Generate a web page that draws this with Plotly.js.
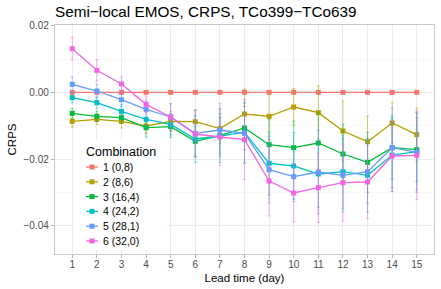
<!DOCTYPE html>
<html><head><meta charset="utf-8">
<script src="https://cdn.plot.ly/plotly-3.0.1.min.js"></script>
<style>html,body{margin:0;padding:0;background:#fff}#chart{width:441px;height:289px}</style>
</head><body><div id="chart"></div>
<script>
// ---- data ----
const leadTime = [1,2,3,4,5,6,7,8,9,10,11,12,13,14,15];
const combos = ["1 (0,8)","2 (8,6)","3 (16,4)","4 (24,2)","5 (28,1)","6 (32,0)"];
const crps1 = [0,0,0,0,0,0,0,0,0,0,0,0,0,0,0];
const err1  = [0,0,0,0,0,0,0,0,0,0,0,0,0,0,0];
const crps2 = [-0.0087,-0.0081,-0.0087,-0.0101,-0.0087,-0.0088,-0.0109,-0.0065,-0.0072,-0.0044,-0.0061,-0.0116,-0.0148,-0.0092,-0.0127];
const err2  = [0.0018,0.0016,0.0020,0.0022,0.0030,0.0035,0.0045,0.0075,0.0070,0.0055,0.0080,0.0090,0.0076,0.0062,0.0080];
const crps3 = [-0.0063,-0.0072,-0.0076,-0.0106,-0.0103,-0.0147,-0.0130,-0.0107,-0.0157,-0.0166,-0.0152,-0.0185,-0.0210,-0.0166,-0.0172];
const err3  = [0.0015,0.0016,0.0016,0.0028,0.0032,0.0045,0.0055,0.0065,0.0075,0.0080,0.0090,0.0090,0.0090,0.0095,0.0095];
const crps4 = [-0.0016,-0.0031,-0.0057,-0.0081,-0.0096,-0.0140,-0.0131,-0.0120,-0.0213,-0.0221,-0.0245,-0.0238,-0.0249,-0.0188,-0.0178];
const err4  = [0.0016,0.0017,0.0020,0.0025,0.0032,0.0070,0.0080,0.0090,0.0095,0.0100,0.0100,0.0110,0.0110,0.0110,0.0115];
const crps5 = [0.0024,0.0004,-0.0022,-0.0051,-0.0074,-0.0123,-0.0113,-0.0123,-0.0232,-0.0253,-0.0239,-0.0249,-0.0238,-0.0166,-0.0180];
const err5  = [0.0023,0.0020,0.0021,0.0025,0.0040,0.0070,0.0080,0.0090,0.0100,0.0075,0.0125,0.0110,0.0095,0.0120,0.0120];
const crps6 = [0.0131,0.0066,0.0025,-0.0036,-0.0074,-0.0125,-0.0134,-0.0142,-0.0266,-0.0302,-0.0286,-0.0271,-0.0269,-0.0191,-0.0189];
const err6  = [0.0034,0.0032,0.0021,0.0025,0.0040,0.0070,0.0085,0.0120,0.0105,0.0087,0.0104,0.0115,0.0110,0.0106,0.0133];

// ---- styles ----
const colors = ["#F8766D","#B79F00","#00BA38","#00BFC4","#619CFF","#F564E3"];
const alphaCols = ["rgba(248,118,109,0.5)","rgba(183,159,0,0.5)","rgba(0,186,56,0.5)","rgba(0,191,196,0.5)","rgba(97,156,255,0.5)","rgba(245,100,227,0.5)"];
const FONT = "Liberation Sans, Arial, Helvetica, sans-serif";

const series = [crps1,crps2,crps3,crps4,crps5,crps6];
const errs = [err1,err2,err3,err4,err5,err6];

const traces = series.map((ys,i)=>({
  x: leadTime, y: ys, type:'scatter', mode:'lines+markers', name: combos[i],
  line:{color:colors[i], width:1.3},
  marker:{color:colors[i], size:5, symbol:'square'},
  error_y:{type:'data', array:errs[i], visible:i>0, color:alphaCols[i], thickness:1, width:1.5},
  showlegend:false
}));

// plot area in px
const P = {l:55, r:434, t:25, b:254};
const px = x => (x-P.l)/(P.r-P.l);
const py = y => (P.b-y)/(P.b-P.t);

// custom legend (ggplot style)
const shapes = [{type:'rect', xref:'paper', yref:'paper', x0:px(73), x1:px(167), y0:py(250), y1:py(140),
  fillcolor:'#ffffff', line:{width:0}, layer:'above'}];
const annotations = [{xref:'paper', yref:'paper', x:px(84), y:py(152), xanchor:'left', yanchor:'middle',
  text:'Combination', showarrow:false, font:{family:FONT, size:12.5, color:'#000'}}];
combos.forEach((lab,i)=>{
  const yc = 167 + i*14.8;
  shapes.push({type:'line', xref:'paper', yref:'paper', x0:px(86), x1:px(98), y0:py(yc), y1:py(yc),
    line:{color:colors[i], width:1.3}, layer:'above'});
  shapes.push({type:'rect', xref:'paper', yref:'paper', x0:px(89.5), x1:px(94.5), y0:py(yc+2.5), y1:py(yc-2.5),
    fillcolor:colors[i], line:{width:0}, layer:'above'});
  annotations.push({xref:'paper', yref:'paper', x:px(101), y:py(yc), xanchor:'left', yanchor:'middle',
    text:lab, showarrow:false, font:{family:FONT, size:10.5, color:'#000'}});
});

const layout = {
  width:441, height:289,
  margin:{l:P.l, r:441-P.r, t:P.t, b:289-P.b, pad:0},
  paper_bgcolor:'#fff', plot_bgcolor:'#fff',
  font:{family:FONT},
  title:{text:'Semi\u2212local EMOS, CRPS, TCo399\u2212TCo639', xref:'container', yref:'container',
    x:55/441, xanchor:'left', y:1-12/289, yanchor:'middle', font:{family:FONT, size:15.3, color:'#000'}},
  xaxis:{range:[0.3,15.7], tickvals:leadTime, ticktext:leadTime.map(String), showgrid:true, gridcolor:'#EBEBEB', gridwidth:1,
    zeroline:false, showline:true, mirror:true, linecolor:'#C8C8C8', linewidth:1.2,
    ticks:'outside', ticklen:3, tickcolor:'#B3B3B3', tickwidth:1, ticklabelstandoff:-2,
    tickfont:{family:FONT, size:10, color:'#4D4D4D'},
    title:{text:'Lead time (day)', font:{family:FONT, size:11.5, color:'#000'}, standoff:4}},
  yaxis:{range:[-0.0485,0.0202], tick0:0, dtick:0.02, tickformat:'.2f', showgrid:true, gridcolor:'#EBEBEB', gridwidth:1,
    minor:{dtick:0.01, showgrid:true, gridcolor:'#F3F3F3', gridwidth:0.6, ticks:''},
    zeroline:false, showline:true, mirror:true, linecolor:'#C8C8C8', linewidth:1.2,
    ticks:'outside', ticklen:3, tickcolor:'#B3B3B3', tickwidth:1,
    tickfont:{family:FONT, size:10, color:'#4D4D4D'},
    title:{text:'CRPS', font:{family:FONT, size:11.5, color:'#000'}, standoff:4}},
  shapes: shapes,
  annotations: annotations,
  showlegend:false
};

Plotly.newPlot('chart', traces, layout, {staticPlot:true, displayModeBar:false});
</script>
</body></html>
